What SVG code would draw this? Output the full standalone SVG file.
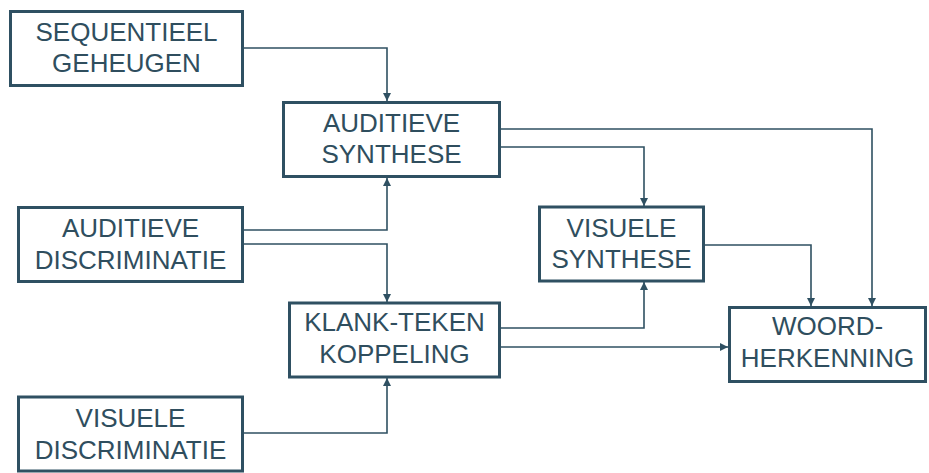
<svg xmlns="http://www.w3.org/2000/svg" width="929" height="473" viewBox="0 0 929 473">
<style>
.box{fill:#ffffff;stroke:#2f5062;stroke-width:3}
.lbl{font-family:"Liberation Sans",Arial,sans-serif;font-size:26px;fill:#2f4e5e;text-anchor:middle}
.con{fill:none;stroke:#2f5062;stroke-width:1.6}
</style>
<defs>
<marker id="ah" viewBox="0 0 10 10" refX="10" refY="5" markerWidth="9" markerHeight="8" markerUnits="userSpaceOnUse" orient="auto">
<path d="M0,0 L10,5 L0,10 z" fill="#2f5062"/>
</marker>
</defs>
<rect width="929" height="473" fill="#ffffff"/>
<g id="connectors">
<path class="con" d="M244,48 H387 V101" marker-end="url(#ah)"/>
<path class="con" d="M244,230 H387 V178" marker-end="url(#ah)"/>
<path class="con" d="M244,244 H387 V302" marker-end="url(#ah)"/>
<path class="con" d="M244,433 H387 V378" marker-end="url(#ah)"/>
<path class="con" d="M501,328 H644 V282" marker-end="url(#ah)"/>
<path class="con" d="M501,347 H728" marker-end="url(#ah)"/>
<path class="con" d="M501,129 H872 V306" marker-end="url(#ah)"/>
<path class="con" d="M501,147 H644 V206" marker-end="url(#ah)"/>
<path class="con" d="M705,245 H811 V306" marker-end="url(#ah)"/>
</g>
<g id="sequentieel-geheugen">
<rect class="box" x="10.5" y="11.5" width="232" height="74"/>
<text class="lbl" x="126.5" y="41">SEQUENTIEEL</text>
<text class="lbl" x="126.5" y="72">GEHEUGEN</text>
</g>
<g id="auditieve-synthese">
<rect class="box" x="283.5" y="102.5" width="216" height="74"/>
<text class="lbl" x="391.5" y="132">AUDITIEVE</text>
<text class="lbl" x="391.5" y="163">SYNTHESE</text>
</g>
<g id="auditieve-discriminatie">
<rect class="box" x="18.5" y="207.5" width="224" height="74"/>
<text class="lbl" x="130.5" y="237">AUDITIEVE</text>
<text class="lbl" x="130.5" y="269">DISCRIMINATIE</text>
</g>
<g id="klank-teken-koppeling">
<rect class="box" x="289.5" y="303" width="210" height="74"/>
<text class="lbl" x="394.5" y="331">KLANK-TEKEN</text>
<text class="lbl" x="394.5" y="363">KOPPELING</text>
</g>
<g id="visuele-discriminatie">
<rect class="box" x="18.5" y="397" width="224" height="74"/>
<text class="lbl" x="130.5" y="427">VISUELE</text>
<text class="lbl" x="130.5" y="459">DISCRIMINATIE</text>
</g>
<g id="visuele-synthese">
<rect class="box" x="539.5" y="207" width="164" height="74"/>
<text class="lbl" x="621.5" y="237">VISUELE</text>
<text class="lbl" x="621.5" y="268">SYNTHESE</text>
</g>
<g id="woordherkenning">
<rect class="box" x="729.5" y="307.5" width="196" height="74"/>
<text class="lbl" x="827.5" y="335">WOORD-</text>
<text class="lbl" x="827.5" y="367">HERKENNING</text>
</g>
</svg>
